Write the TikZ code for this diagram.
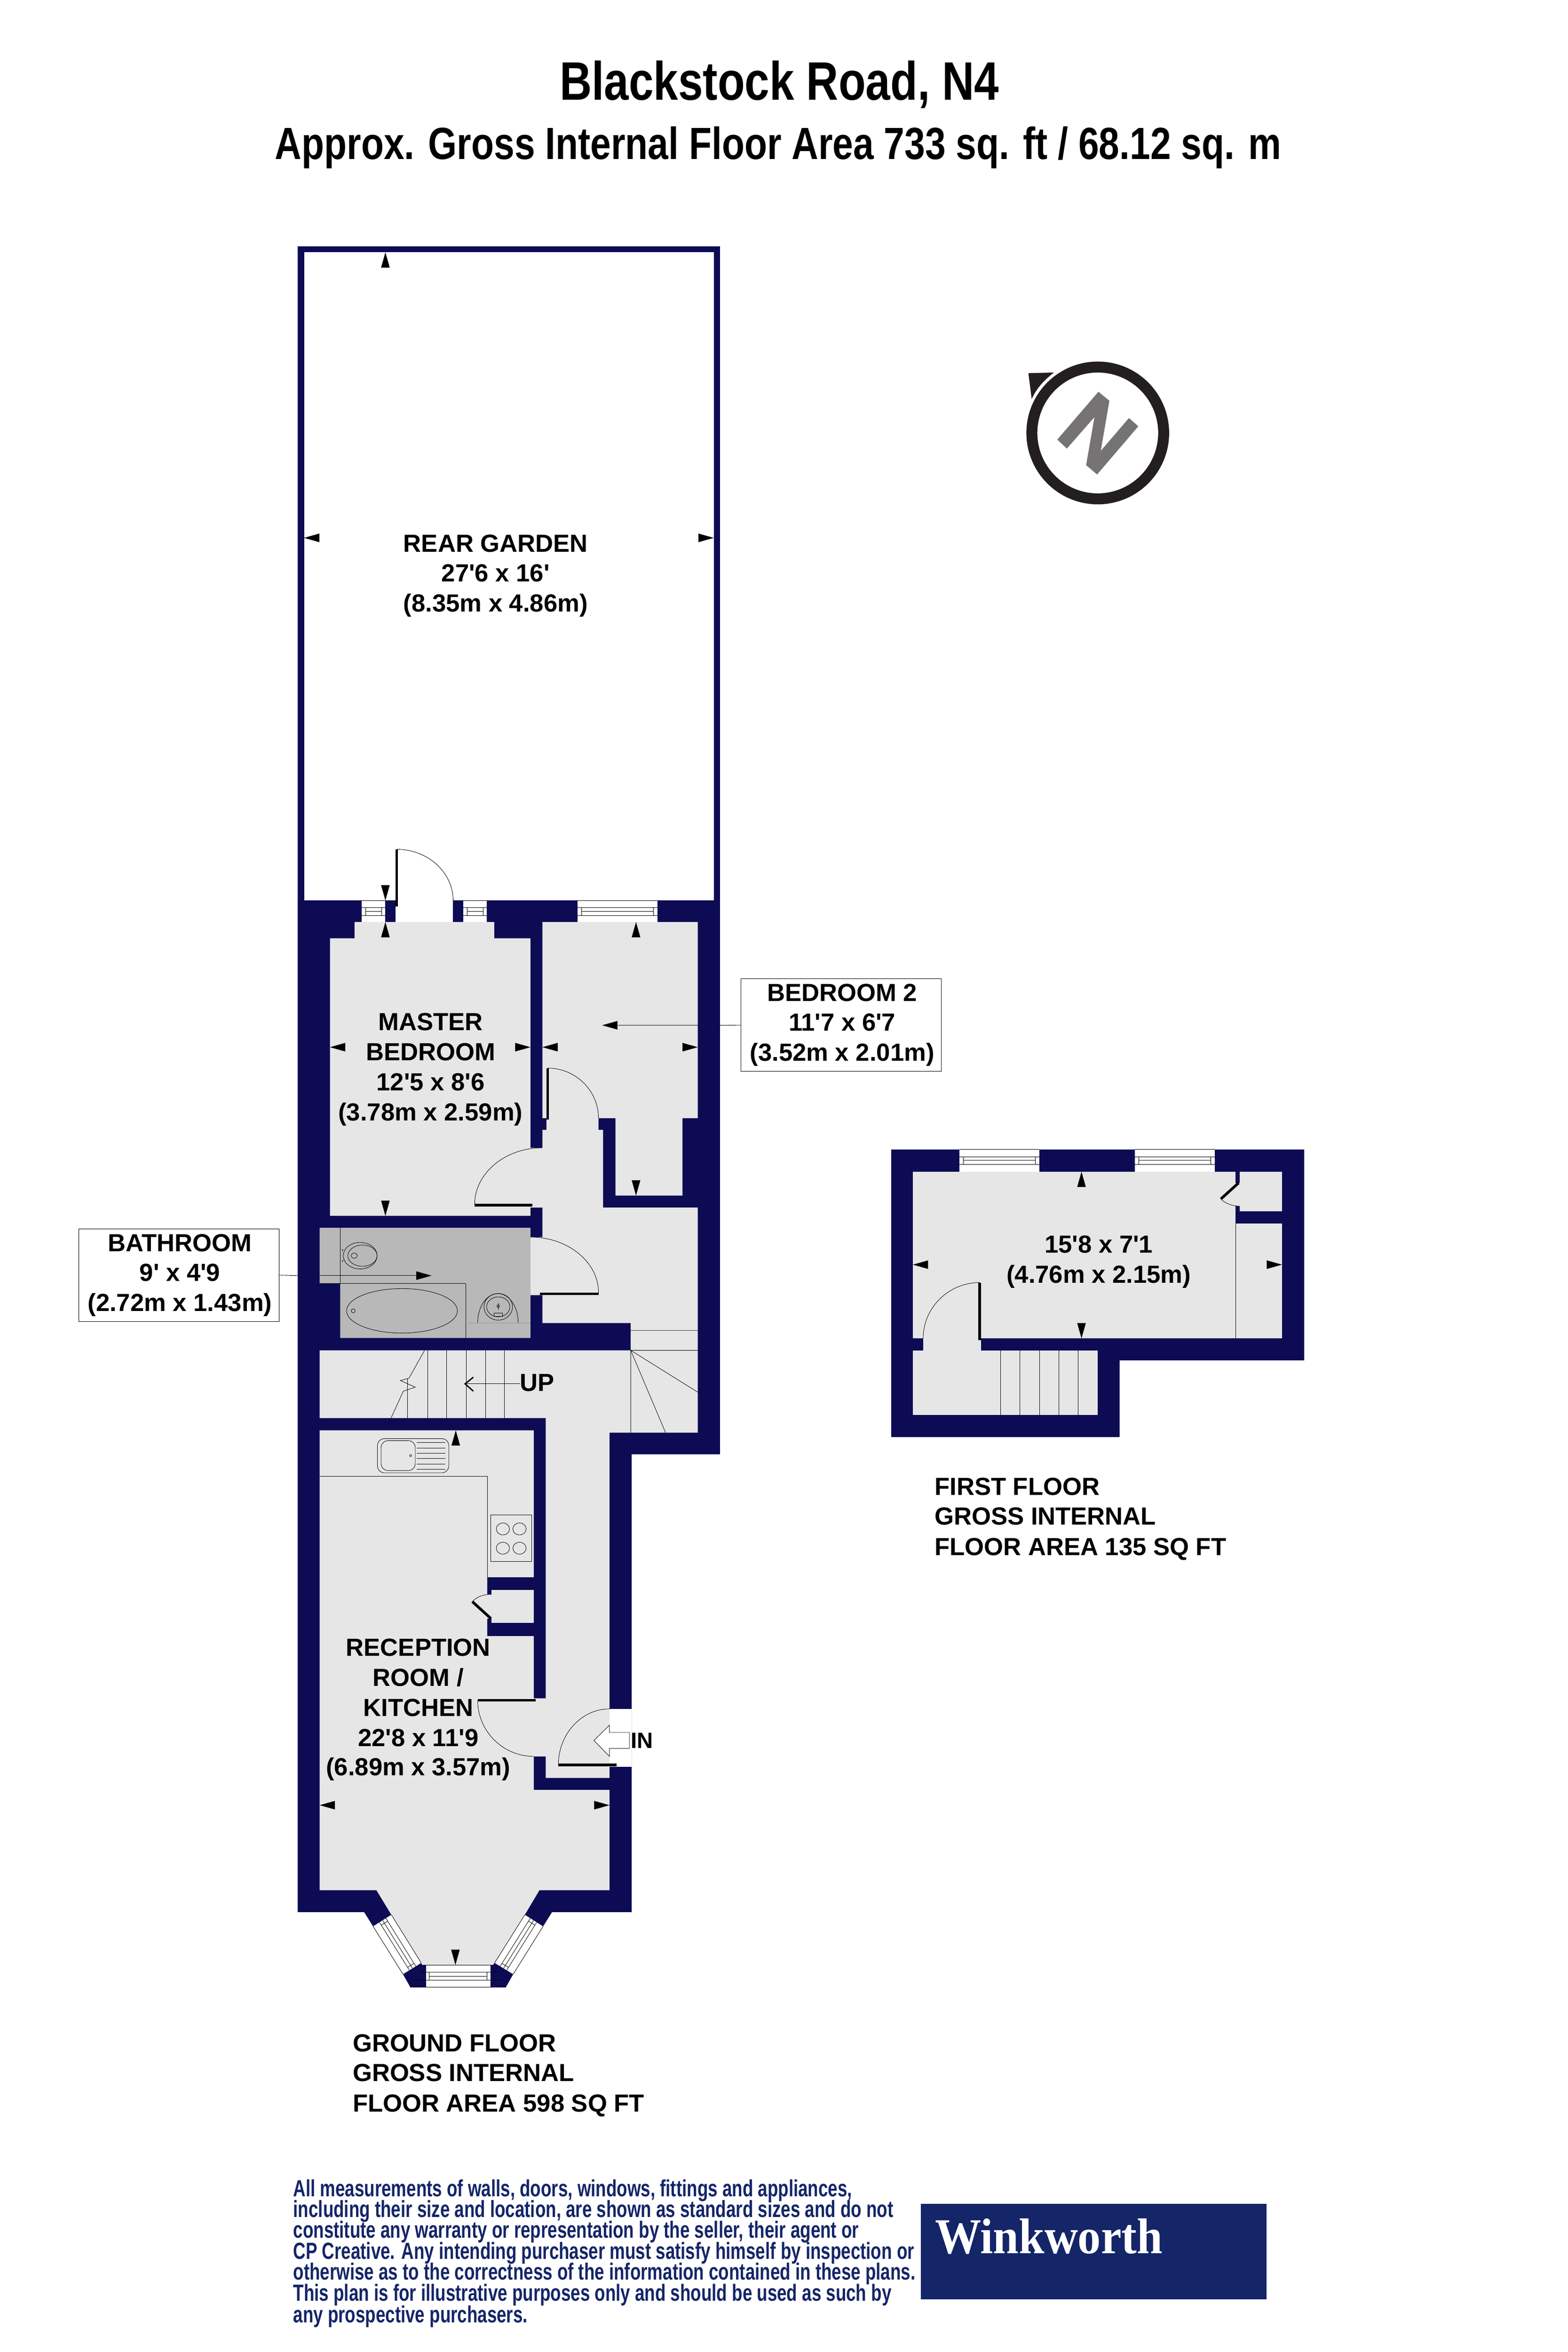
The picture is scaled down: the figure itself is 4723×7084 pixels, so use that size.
\documentclass[tikz,border=0pt]{standalone}
\usepackage{fontspec}
\setmainfont{Liberation Sans}
\newfontfamily\lab{Liberation Sans Bold}
\newfontfamily\titlef[FakeStretch=0.82]{Liberation Sans Bold}
\newfontfamily\discf[FakeStretch=0.74]{Liberation Sans Bold}
\newfontfamily\logof[FakeStretch=0.92]{Liberation Serif Bold}
\usetikzlibrary{calc}
\definecolor{wall}{RGB}{13,11,84}
\definecolor{floorc}{RGB}{230,230,230}
\definecolor{bathc}{RGB}{184,184,184}
\definecolor{logoc}{RGB}{20,37,104}
\definecolor{ringc}{RGB}{35,31,32}
\definecolor{nc}{RGB}{118,115,116}
\tikzset{
  thin line/.style={black,line width=0.35pt},
  leaf/.style={black,line width=2.3pt},
  roomlabel/.style={font=\lab\fontsize{21.2}{25.7}\selectfont,anchor=base,inner sep=0pt},
  floorlabel/.style={font=\lab\fontsize{21.2}{25.7}\selectfont,anchor=base west,inner sep=0pt},
  dimbox/.style={draw=black,line width=0.35pt,fill=white,inner sep=0pt}
}
\def\aU(#1){\fill[black] (#1) -- ++(-13,46) -- ++(26,0) -- cycle;}
\def\aD(#1){\fill[black] (#1) -- ++(-13,-46) -- ++(26,0) -- cycle;}
\def\aL(#1){\fill[black] (#1) -- ++(46,-13) -- ++(0,26) -- cycle;}
\def\aR(#1){\fill[black] (#1) -- ++(-46,-13) -- ++(0,26) -- cycle;}
% door arc: start, corner, end
\def\darc(#1)(#2)(#3){\draw[thin line] (#1) .. controls ($(#1)!.55!(#2)$) and ($(#3)!.55!(#2)$) .. (#3);}
\newcommand\hwin[7]{%
  \fill[white] (#1,#3) rectangle (#2,#4);
  \draw[thin line] (#1,#3) -- (#2,#3) (#1,#5) -- (#2,#5) (#1,#6) -- (#2,#6);
  \draw[thin line] (#1+12,#5) rectangle (#2-12,#6);
  \draw[thin line] (#1+12,#7) -- (#2-12,#7);
}
% bay window: four corners named
\newcommand\baywin[4]{%
  \fill[white] (#1) -- (#2) -- (#3) -- (#4) -- cycle;
  \draw[thin line] (#1) -- (#4) (#2) -- (#3);
  \foreach \f in {0.35,0.52,0.70}{\draw[thin line] ($(#1)!\f!(#2)$) -- ($(#4)!\f!(#3)$);}
  \foreach \t in {0.06,0.94}{\draw[thin line] ($($(#1)!.35!(#2)$)!\t!($(#4)!.35!(#3)$)$) -- ($($(#1)!.7!(#2)$)!\t!($(#4)!.7!(#3)$)$);}
}
\begin{document}
\begin{tikzpicture}[x=0.01cm,y=-0.01cm]
\useasboundingbox (0,0) rectangle (4723,7084);
\fill[white] (0,0) rectangle (4723,7084);
% ---- Title
\node[font=\titlef\fontsize{46.4}{56}\selectfont,inner sep=0pt,anchor=base] (title) at (2348,301) {Blackstock Road, N4};
\node[font=\titlef\fontsize{38.6}{46}\selectfont,inner sep=0pt,anchor=base] (subtitle) at (2344,480) {Approx. Gross Internal Floor Area 733 sq. ft / 68.12 sq. m};
% ---- Compass
\fill[ringc,even odd rule] (3307,1304) circle (215) (3307,1304) circle (182);
\fill[ringc] (3098,1124) -- (3175,1122) .. controls (3145,1145) and (3122,1170) .. (3108,1202) -- cycle;
\fill[nc] (3309,1180) -- (3342,1207) -- (3316,1358) -- (3401,1259) -- (3429,1284) -- (3305,1429) -- (3272,1401) -- (3297,1256) -- (3214,1351) -- (3185,1324) -- cycle;
% ---- Ground floor walls
\fill[wall] (897,742) -- (2169,742) -- (2169,4380) -- (1903,4380) -- (1903,5759) -- (1663,5759) -- (1636,5802) -- (1546,5946) -- (1524,5985) -- (1236,5985) -- (1214,5946) -- (1124,5802) -- (1097,5759) -- (897,5759) -- cycle;
% garden
\fill[white] (916,760) rectangle (2150,2712);
% floors
\fill[floorc] (1068,2777) -- (1489,2777) -- (1489,2826) -- (1598,2826) -- (1598,3457) -- (1634,3457) -- (1634,3403) -- (1646,3403) -- (1646,3368) -- (1634,3368) -- (1634,2777) -- (2102,2777) -- (2102,3368) -- (2056,3368) -- (2056,3601) -- (1854,3601) -- (1854,3368) -- (1803,3368) -- (1803,3403) -- (1817,3403) -- (1817,3637) -- (2102,3637) -- (2102,4315) -- (1836,4315) -- (1836,5355) -- (1644,5355) -- (1644,5290) -- (1608,5290) -- (1608,5391) -- (1836,5391) -- (1836,5693) -- (1625,5693) -- (1581,5767) -- (1485,5919) -- (1273,5919) -- (1179,5767) -- (1134,5693) -- (963,5693) -- (963,4308) -- (1608,4308) -- (1608,5115) -- (1644,5115) -- (1644,4271) -- (963,4271) -- (963,4067) -- (1900,4067) -- (1900,3985) -- (1634,3985) -- (1634,3901) -- (1598,3901) -- (1598,3726) -- (1634,3726) -- (1634,3637) -- (1598,3637) -- (1598,3662) -- (994,3662) -- (994,2826) -- (1068,2826) -- cycle;
% bathroom
\fill[bathc] (963,3698) -- (1598,3698) -- (1598,4030) -- (1025,4030) -- (1025,3866) -- (963,3866) -- cycle;
% cupboard walls in kitchen
\fill[wall] (1468,4751) rectangle (1608,4789);
\fill[wall] (1468,4888) rectangle (1608,4927);
\fill[wall] (1468,4789) rectangle (1480,4803);
\fill[wall] (1468,4875) rectangle (1480,4888);
% entrance gap
\fill[white] (1836,5147) rectangle (1903,5321);
% garden door & windows
\fill[white] (1191,2712) rectangle (1365,2777);
\hwin{1089}{1161}{2712}{2777}{2734}{2757}{2745}
\hwin{1396}{1467}{2712}{2777}{2734}{2757}{2745}
\hwin{1740}{1981}{2712}{2777}{2734}{2757}{2745}
% bay windows
\coordinate (la) at (1124,5802); \coordinate (lb) at (1179,5767); \coordinate (lc) at (1269,5912); \coordinate (ld) at (1214,5946);
\baywin{la}{lb}{lc}{ld}
\coordinate (ra) at (1636,5802); \coordinate (rb) at (1581,5767); \coordinate (rc) at (1490,5912); \coordinate (rd) at (1546,5946);
\baywin{ra}{rb}{rc}{rd}
\fill[white] (1283,5919) rectangle (1477,5985);
\draw[thin line] (1273,5919) -- (1485,5919) (1236,5985) -- (1524,5985) (1262,5940) -- (1497,5940) (1248,5964) -- (1512,5964);
\draw[thin line] (1293,5940) rectangle (1467,5964);
\draw[thin line] (1293,5952) -- (1467,5952);
% door leaves and arcs
\draw[leaf] (1195,2558) -- (1195,2730); \darc(1195,2558)(1365,2558)(1365,2712)
\draw[leaf] (1650,3217) -- (1650,3372); \darc(1650,3217)(1803,3217)(1803,3368)
\draw[leaf] (1430,3630) -- (1604,3630); \darc(1634,3457)(1430,3457)(1430,3627)
\draw[leaf] (1627,3897) -- (1803,3897); \darc(1598,3726)(1803,3726)(1803,3893)
\draw[leaf] (1439,5121) -- (1614,5121); \darc(1439,5121)(1439,5290)(1608,5290)
\draw[leaf] (1682,5316) -- (1858,5316); \darc(1836,5147)(1682,5147)(1682,5316)
\draw[leaf] (1423,4824) -- (1479,4875); \darc(1468,4803)(1440,4803)(1423,4824)
% stairs ground
\draw[thin line] (1228,4151) -- (1228,4271);
\foreach \x in {1288,1345,1404,1463,1520}{\draw[thin line] (\x,4067) -- (\x,4271);}
\draw[thin line] (1279,4067) -- (1232,4151) -- (1206,4158) -- (1251,4178) -- (1215,4190) -- (1178,4271);
\draw[thin line] (1900,4007) -- (2102,4007) (1900,4067) -- (2102,4067) (1900,4067) -- (1900,4315) (1900,4067) -- (2102,4193) (1900,4067) -- (2005,4315);
% UP arrow
\node[roomlabel] (up) at (1618,4190) {UP};
\coordinate (uptip) at (1401,4168);
\draw[thin line] (1567,4168) -- (uptip);
\draw[black,line width=1.1pt] (1426,4148) -- (uptip) -- (1426,4190);
% kitchen fittings
\draw[thin line] (963,4447) -- (1468,4447) -- (1468,4751);
\draw[thin line,rounded corners=6] (1137,4333) rectangle (1352,4436);
\draw[thin line,rounded corners=6] (1148,4339) rectangle (1251,4429);
\foreach \y in {4345,4361,4377,4393,4409,4425}{\draw[thin line] (1255,\y) -- (1342,\y);}
\draw[thin line] (1237,4384) circle (3);
\draw[thin line] (1479,4563) rectangle (1602,4703);
\foreach \a/\b in {1515/4605,1565/4605,1515/4663,1565/4663}{\draw[thin line] (\a,\b) ellipse (20 and 18);}
% bathroom fittings
\draw[thin line] (1025,3698) -- (1025,3866) (963,3866) -- (1403,3866) (1403,3866) -- (1403,4030);
\draw[thin line] (1085,3782) ellipse (51 and 40);
\draw[thin line] (1092,3782) ellipse (44 and 32);
\draw[thin line] (1067,3782) ellipse (9 and 8);
\fill[black] (1032,3765) circle (2) (1032,3798) circle (2);
\draw[thin line] (1211,3948) ellipse (167 and 67);
\draw[thin line] (1064,3948) circle (6);
\draw[thin line] (1439,3985) .. controls (1439,3930) and (1470,3896) .. (1500,3896) .. controls (1530,3896) and (1561,3930) .. (1561,3985);
\draw[thin line,black!40] (1403,3985) -- (1598,3985);
\draw[thin line] (1501,3936) ellipse (43 and 40);
\draw[thin line] (1501,3936) ellipse (35 and 30);
\draw[thin line] (1501,3934) circle (4) (1501,3925) -- (1501,3945);
\draw[thin line] (1488,3955) rectangle (1514,3965);
% ---- arrows ground
\aU(1161,760) \aD(1161,2712)
\aL(916,1620) \aR(2150,1620)
\aL(994,3154) \aR(1598,3154) \aU(1161,2777) \aD(1161,3662)
\aL(1634,3154) \aR(2102,3154) \aU(1916,2777) \aD(1916,3601)
\aU(1373,4308) \aD(1372,5918) \aL(963,5437) \aR(1836,5437)
% IN arrow
\draw[thin line,fill=white] (1789,5242) -- (1836,5196) -- (1836,5218) -- (1896,5218) -- (1896,5266) -- (1836,5266) -- (1836,5290) -- cycle;
\node[font=\lab\fontsize{19}{23}\selectfont,inner sep=0pt,anchor=base] (in) at (1934,5266) {IN};
% ---- dimension boxes
\node[dimbox,minimum width=6.04cm,minimum height=2.79cm] (bedbox) at (2534,3087.5) {};
\node[roomlabel] at (2537,3015) {BEDROOM 2};
\node[roomlabel] at (2537,3105) {11'7 x 6'7};
\node[roomlabel] at (2537,3196) {(3.52m x 2.01m)};
\coordinate (bedtip) at (1862,3088);
\draw[thin line] (bedbox.west) -- (2169,3088);
\draw[thin line] (2102,3088) -- (bedtip);
\aL(1814,3088)
\node[dimbox,minimum width=6.04cm,minimum height=2.79cm] (bathbox) at (539,3840.5) {};
\node[roomlabel] at (542,3769) {BATHROOM};
\node[roomlabel] at (542,3858) {9' x 4'9};
\node[roomlabel] at (542,3949) {(2.72m x 1.43m)};
\coordinate (bathtip) at (1254,3842);
\draw[thin line] (bathbox.east) -- (897,3842);
\draw[thin line] (963,3842) -- (bathtip);
\aR(1300,3842)
% ---- room labels
\node[roomlabel] at (1493,1662) {REAR GARDEN};
\node[roomlabel] at (1493,1752) {27'6 x 16'};
\node[roomlabel] at (1493,1842) {(8.35m x 4.86m)};
\node[roomlabel] at (1297,3103) {MASTER};
\node[roomlabel] at (1297,3194) {BEDROOM};
\node[roomlabel] at (1297,3285) {12'5 x 8'6};
\node[roomlabel] at (1297,3376) {(3.78m x 2.59m)};
\node[roomlabel] at (1260,4988) {RECEPTION};
\node[roomlabel] at (1260,5078) {ROOM /};
\node[roomlabel] at (1260,5169) {KITCHEN};
\node[roomlabel] at (1260,5260) {22'8 x 11'9};
\node[roomlabel] at (1260,5347) {(6.89m x 3.57m)};
% ---- ground floor caption
\node[floorlabel] at (1062,6179) {GROUND FLOOR};
\node[floorlabel] at (1062,6269) {GROSS INTERNAL};
\node[floorlabel] at (1062,6360) {FLOOR AREA 598 SQ FT};
% ---- First floor
\fill[wall] (2685,3462) -- (3929,3462) -- (3929,4097) -- (3373,4097) -- (3373,4328) -- (2685,4328) -- cycle;
\fill[floorc] (2750,3529) rectangle (3862,4031);
\fill[wall] (3722,3529) rectangle (3735,3563);
\fill[wall] (3722,3633) rectangle (3735,3648);
\fill[wall] (3722,3648) rectangle (3862,3685);
\fill[floorc] (2750,4067) rectangle (3307,4262);
\fill[floorc] (2781,4025) rectangle (2955,4070);
\hwin{2890}{3131}{3462}{3529}{3484}{3507}{3495}
\hwin{3418}{3659}{3462}{3529}{3484}{3507}{3495}
\draw[thin line] (3722,3685) -- (3722,4031);
\draw[leaf] (3731,3563) -- (3678,3611); \darc(3678,3611)(3695,3633)(3735,3633)
\draw[leaf] (2951,3863) -- (2951,4037); \darc(2951,3863)(2781,3863)(2781,4031)
\foreach \x in {3014,3072,3132,3190,3248}{\draw[thin line] (\x,4067) -- (\x,4262);}
\aU(3258,3529) \aD(3258,4031) \aL(2750,3809) \aR(3862,3809)
\node[roomlabel] at (3310,3773) {15'8 x 7'1};
\node[roomlabel] at (3310,3864) {(4.76m x 2.15m)};
\node[floorlabel] at (2815,4503) {FIRST FLOOR};
\node[floorlabel] at (2815,4593) {GROSS INTERNAL};
\node[floorlabel] at (2815,4684) {FLOOR AREA 135 SQ FT};
% ---- Disclaimer
\begin{scope}[every node/.style={font=\discf\fontsize{20}{18}\selectfont,anchor=base west,inner sep=0pt,text=logoc}]
\node at (883,6616) {All measurements of walls, doors, windows, fittings and appliances,};
\node at (883,6678) {including their size and location, are shown as standard sizes and do not};
\node at (883,6741) {constitute any warranty or representation by the seller, their agent or};
\node at (883,6804) {CP Creative. Any intending purchaser must satisfy himself by inspection or};
\node at (883,6866) {otherwise as to the correctness of the information contained in these plans.};
\node at (883,6930) {This plan is for illustrative purposes only and should be used as such by};
\node at (883,6995) {any prospective purchasers.};
\end{scope}
% ---- Logo
\fill[logoc] (2774,6638) rectangle (3816,6925);
\node[font=\logof\fontsize{43}{50}\selectfont,text=white,anchor=base west,inner sep=0pt] (logo) at (2816,6787) {Winkworth};
\end{tikzpicture}
\end{document}
